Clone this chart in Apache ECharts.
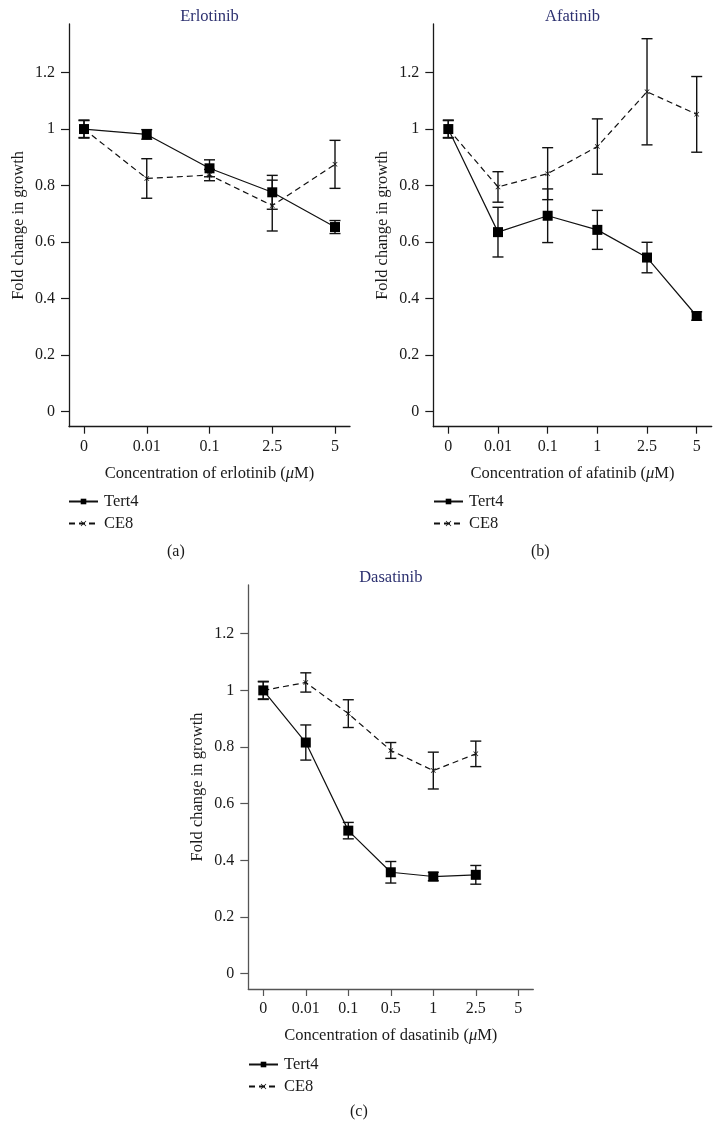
<!DOCTYPE html>
<html>
<head>
<meta charset="utf-8">
<script src="https://cdn.jsdelivr.net/npm/echarts@6/dist/echarts.min.js"></script>
<style>
html,body{margin:0;padding:0;background:#fff;}
#chart{width:723px;height:1128px;}
</style>
</head>
<body>
<div id="chart"></div>
<script>
// ---- Data ----
var yTicks = [0, 0.2, 0.4, 0.6, 0.8, 1, 1.2];

var erlotinibCats = ['0', '0.01', '0.1', '2.5', '5'];
var erlTert4 = [1.00, 0.981, 0.861, 0.776, 0.653];
var erlTert4Err = [0.032, 0.017, 0.03, 0.06, 0.023];
var erlCE8 = [1.00, 0.825, 0.837, 0.729, 0.875];
var erlCE8Err = [0.03, 0.07, 0.02, 0.09, 0.085];

var afatinibCats = ['0', '0.01', '0.1', '1', '2.5', '5'];
var afaTert4 = [1.00, 0.635, 0.693, 0.643, 0.545, 0.338];
var afaTert4Err = [0.032, 0.088, 0.095, 0.069, 0.054, 0.015];
var afaCE8 = [1.00, 0.795, 0.842, 0.938, 1.132, 1.052];
var afaCE8Err = [0.03, 0.054, 0.092, 0.098, 0.188, 0.134];

var dasatinibCats = ['0', '0.01', '0.1', '0.5', '1', '2.5', '5'];
var dasTert4 = [1.00, 0.816, 0.505, 0.358, 0.343, 0.349];
var dasTert4Err = [0.032, 0.062, 0.029, 0.038, 0.015, 0.033];
var dasCE8 = [1.00, 1.028, 0.918, 0.788, 0.717, 0.776];
var dasCE8Err = [0.03, 0.034, 0.049, 0.028, 0.065, 0.045];

// ---- Build ----
var FONT = '"Liberation Serif", "DejaVu Serif", serif';
var TXT = '#1a1a1a';
var TITLE_COLOR = '#2d3170';
var crossSymbol = 'path://M0,1L1,0L5,4L9,0L10,1L6,5L10,9L9,10L5,6L1,10L0,9L4,5Z';

var panels = [
  {title: 'Erlotinib', drug: 'erlotinib', cats: erlotinibCats, t: erlTert4, te: erlTert4Err, c: erlCE8, ce: erlCE8Err,
   grid: {left: 69, top: 24, width: 281, height: 402.7}, axisColor: '#1a1a1a', label: '(a)', labelPos: [178, 554], legendPos: [68, 493]},
  {title: 'Afatinib', drug: 'afatinib', cats: afatinibCats, t: afaTert4, te: afaTert4Err, c: afaCE8, ce: afaCE8Err,
   grid: {left: 433.3, top: 24, width: 278.4, height: 402.7}, axisColor: '#1a1a1a', label: '(b)', labelPos: [542, 554], legendPos: [433, 493]},
  {title: 'Dasatinib', drug: 'dasatinib', cats: dasatinibCats, t: dasTert4, te: dasTert4Err, c: dasCE8, ce: dasCE8Err,
   grid: {left: 248.3, top: 585, width: 285, height: 404}, axisColor: '#555', label: '(c)', labelPos: [361, 1114], legendPos: [248, 1056]}
];

var option = {
  animation: false,
  backgroundColor: '#fff',
  textStyle: {fontFamily: FONT},
  title: [], grid: [], xAxis: [], yAxis: [], series: [], legend: [], graphic: []
};

var PAD = 15; // px padding inside axes
panels.forEach(function (p, i) {
  var n = p.cats.length;
  var unit = (p.grid.width - 2 * PAD) / (n - 1);
  var padVal = PAD / unit;
  var idx = p.cats.map(function (_, k) { return k; });

  option.grid.push({left: p.grid.left, top: p.grid.top, width: p.grid.width, height: p.grid.height, containLabel: false});
  option.title.push({
    text: p.title, left: p.grid.left + p.grid.width / 2, top: p.grid.top - 16, textAlign: 'center', padding: 0,
    textStyle: {fontFamily: FONT, fontSize: 16.5, fontWeight: 'normal', color: TITLE_COLOR}
  });
  option.xAxis.push({
    type: 'value', gridIndex: i, min: -padVal, max: (n - 1) + padVal,
    name: 'Concentration of ' + p.drug + ' ({i|μ}M)', nameLocation: 'middle', nameGap: 38,
    nameTextStyle: {fontFamily: FONT, fontSize: 16.5, color: TXT, rich: {i: {fontFamily: FONT, fontSize: 16.5, fontStyle: 'italic', color: TXT}}},
    axisLine: {onZero: false, lineStyle: {color: p.axisColor, width: 1.3}},
    axisTick: {show: true, length: 7, customValues: idx, lineStyle: {color: p.axisColor, width: 1.2}},
    axisLabel: {customValues: idx, margin: 12, fontFamily: FONT, fontSize: 16, color: TXT,
      formatter: (function (cats) { return function (v) { return cats[Math.round(v)]; }; })(p.cats)},
    splitLine: {show: false}
  });
  option.yAxis.push({
    type: 'value', gridIndex: i, min: -0.054, max: 1.372,
    name: 'Fold change in growth', nameLocation: 'middle', nameGap: 42,
    nameTextStyle: {fontFamily: FONT, fontSize: 16.5, color: TXT},
    axisLine: {onZero: false, lineStyle: {color: p.axisColor, width: 1.3}},
    axisTick: {show: true, length: 8, customValues: yTicks, lineStyle: {color: p.axisColor, width: 1.2}},
    axisLabel: {customValues: yTicks, margin: 14, fontFamily: FONT, fontSize: 16, color: TXT},
    splitLine: {show: false}
  });

  function errData(vals, errs) {
    return vals.map(function (v, k) { return [k, v - errs[k], v + errs[k]]; });
  }
  function errRender(params, api) {
    var x = api.value(0);
    var lo = api.coord([x, api.value(1)]);
    var hi = api.coord([x, api.value(2)]);
    var w = 5.5;
    var st = {stroke: '#111', lineWidth: 1.4};
    return {type: 'group', children: [
      {type: 'line', shape: {x1: lo[0], y1: lo[1], x2: hi[0], y2: hi[1]}, style: st},
      {type: 'line', shape: {x1: lo[0] - w, y1: lo[1], x2: lo[0] + w, y2: lo[1]}, style: st},
      {type: 'line', shape: {x1: hi[0] - w, y1: hi[1], x2: hi[0] + w, y2: hi[1]}, style: st}
    ]};
  }
  option.series.push({
    type: 'custom', xAxisIndex: i, yAxisIndex: i, renderItem: errRender,
    data: errData(p.c, p.ce), z: 2, silent: true
  });
  option.series.push({
    type: 'custom', xAxisIndex: i, yAxisIndex: i, renderItem: errRender,
    data: errData(p.t, p.te), z: 2, silent: true
  });
  option.series.push({
    name: 'CE8', type: 'line', xAxisIndex: i, yAxisIndex: i,
    data: p.c.map(function (v, k) { return [k, v]; }),
    symbol: crossSymbol, symbolSize: 5, showAllSymbol: true,
    itemStyle: {color: '#111'},
    lineStyle: {color: '#111', width: 1.2, type: [6, 4]}, z: 3
  });
  option.series.push({
    name: 'Tert4', type: 'line', xAxisIndex: i, yAxisIndex: i,
    data: p.t.map(function (v, k) { return [k, v]; }),
    symbol: 'rect', symbolSize: 10, showAllSymbol: true,
    itemStyle: {color: '#000'},
    lineStyle: {color: '#111', width: 1.2, type: 'solid'}, z: 4
  });
  option.legend.push({
    orient: 'vertical', left: p.legendPos[0], top: p.legendPos[1], padding: 0,
    data: ['Tert4', 'CE8'], itemWidth: 29, itemHeight: 7, itemGap: 5,
    selectedMode: false,
    textStyle: {fontFamily: FONT, fontSize: 16.5, color: TXT, padding: [0, 0, 0, 1]}
  });
  option.graphic.push({
    type: 'text', left: p.labelPos[0] - 11, top: p.labelPos[1] - 10,
    style: {text: p.label, fontFamily: FONT, fontSize: 16, fill: TXT}
  });
});

var chart = echarts.init(document.getElementById('chart'), null, {renderer: 'canvas'});
chart.setOption(option);
</script>
</body>
</html>
